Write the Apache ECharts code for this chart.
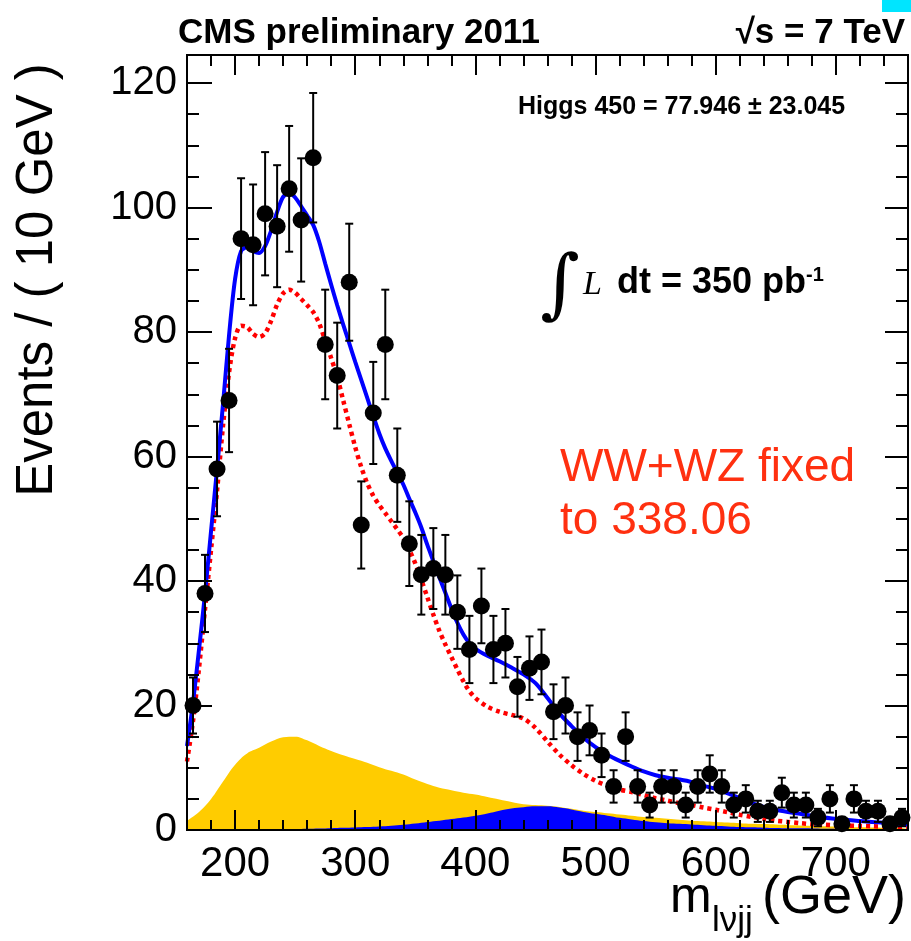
<!DOCTYPE html>
<html>
<head>
<meta charset="utf-8">
<title>CMS preliminary 2011 - m_lvjj</title>
<script src="https://cdn.jsdelivr.net/npm/echarts/dist/echarts.min.js"></script>
<style>
  html, body { margin: 0; padding: 0; background: #fff; }
  #chart { width: 911px; height: 941px; }
</style>
</head>
<body>
<div id="chart"></div>
<script>
// data points (bin centres, 10 GeV bins)
var dataMass = [165, 175, 185, 195, 205, 215, 225, 235, 245, 255, 265, 275, 285, 295, 305, 315, 325, 335, 345, 355,
  365, 375, 385, 395, 405, 415, 425, 435, 445, 455, 465, 475, 485, 495, 505, 515, 525, 535, 545, 555,
  565, 575, 585, 595, 605, 615, 625, 635, 645, 655, 665, 675, 685, 695, 705, 715, 725, 735, 745, 755];
var dataCounts = [20, 38, 58, 69, 95, 94, 99, 97, 103, 98, 108, 78, 73, 88, 49, 67, 78, 57, 46, 41,
  42, 41, 35, 29, 36, 29, 30, 23, 26, 27, 19, 20, 15, 16, 12, 7, 15, 7, 4, 7,
  7, 4, 7, 9, 7, 4, 5, 3, 3, 6, 4, 4, 2, 5, 1, 5, 3, 3, 1, 2];
var dataErrors = [4.5, 6.2, 7.6, 8.3, 9.7, 9.7, 9.9, 9.8, 10.1, 9.9, 10.4, 8.8, 8.5, 9.4, 7.0, 8.2, 8.8, 7.5, 6.8, 6.4,
  6.5, 6.4, 5.9, 5.4, 6.0, 5.4, 5.5, 4.8, 5.1, 5.2, 4.4, 4.5, 3.9, 4.0, 3.5, 2.6, 3.9, 2.6, 2.0, 2.6,
  2.6, 2.0, 2.6, 3.0, 2.6, 2.0, 2.2, 1.7, 1.7, 2.4, 2.0, 2.0, 1.4, 2.2, 1.0, 2.2, 1.7, 1.7, 1.0, 1.4];

// fit curves (total fit in blue, WW+WZ in red dotted)
var fitMass = [160, 165, 170, 175, 180, 185, 190, 195, 200, 205, 210, 215, 220, 225, 230, 235, 240, 245, 250, 255,
  260, 265, 270, 275, 280, 285, 290, 295, 300, 305, 310, 315, 320, 325, 330, 335, 340, 345, 350, 355,
  360, 365, 370, 375, 380, 385, 390, 395, 400, 410, 420, 430, 440, 450, 460, 470, 480, 490, 500, 510,
  520, 530, 540, 550, 560, 570, 580, 590, 600, 610, 620, 630, 640, 650, 660, 670, 680, 690, 700, 710,
  720, 730, 740, 750, 760];
var fitTotal = [13.5, 20.5, 29, 38, 48, 58, 68.5, 79.5, 88.5, 93, 93.6, 93, 92.7, 93.8, 96.3, 99.3, 101.7, 102.4, 101.6, 100.2,
  98.7, 97.2, 94.5, 91, 87.6, 84.3, 81.2, 78.2, 75.2, 72.3, 69.4, 66.5, 63.7, 61.3, 59.3, 57.4, 55.5, 53.2, 51, 48.6,
  45.8, 43.2, 40.6, 38.1, 35.6, 33.3, 31.4, 30, 29.1, 28, 27.1, 26.1, 25, 23.6, 21.2, 18.7, 16.7, 14.8, 13.3, 12.1,
  11.1, 10.2, 9.4, 8.8, 8.4, 8.1, 7.7, 7.1, 6.6, 5.9, 5.1, 4.3, 3.7, 3.25, 2.9, 2.6, 2.3, 2.0, 1.8, 1.6,
  1.45, 1.3, 1.15, 1.0, 0.9];
var fitWW = [11, 17.5, 26, 35.5, 45, 54.5, 65, 73.5, 79, 81, 80.8, 79.7, 79.2, 79.8, 81.8, 84.4, 86.2, 86.8, 86.3, 85.3,
  84.3, 83.2, 81.4, 78.6, 75.8, 72.8, 69, 65.2, 61.5, 58.3, 55.7, 53.7, 52.2, 50.9, 49.6, 48.3, 46.9, 45, 42.8, 40.2,
  37.4, 34.6, 32, 29.8, 27.8, 25.8, 23.9, 22.3, 21.2, 19.8, 19.0, 18.5, 17.9, 16.4, 14.2, 12.1, 10.4, 9.0, 7.9, 7.1,
  6.5, 6.1, 5.6, 5.1, 4.7, 4.3, 4.0, 3.6, 3.25, 2.85, 2.45, 2.1, 1.8, 1.5, 1.3, 1.1, 0.95, 0.85, 0.75, 0.7,
  0.65, 0.6, 0.55, 0.52, 0.5];

// filled components
var compMass = [160, 170, 180, 190, 200, 210, 220, 230, 240, 250, 260, 270, 280, 290, 300, 310, 320, 330, 340, 350,
  360, 370, 380, 390, 400, 410, 420, 430, 440, 450, 460, 470, 480, 490, 500, 510, 520, 530, 540, 550,
  560, 570, 580, 590, 600, 610, 620, 630, 640, 650, 660, 670, 680, 690, 700, 710, 720, 730, 740, 750, 760];
var compYellow = [1.5, 2.9, 5.0, 7.8, 10.5, 12.3, 13.2, 14.2, 14.9, 15.0, 14.4, 13.5, 12.7, 12.0, 11.4, 10.8, 10.1, 9.5, 8.9, 8.1,
  7.4, 6.8, 6.4, 6.0, 5.7, 5.3, 4.9, 4.5, 4.15, 4.0, 3.9, 3.7, 3.4, 3.1, 2.9, 2.7, 2.5, 2.3, 2.1, 1.95,
  1.8, 1.65, 1.5, 1.4, 1.3, 1.2, 1.1, 1.0, 0.95, 0.88, 0.8, 0.72, 0.65, 0.6, 0.55, 0.5, 0.45, 0.42, 0.38, 0.34, 0.3];
var compHiggs = [0, 0.01, 0.02, 0.03, 0.05, 0.07, 0.1, 0.12, 0.15, 0.18, 0.22, 0.26, 0.3, 0.35, 0.4, 0.47, 0.55, 0.68, 0.85, 1.05,
  1.3, 1.5, 1.75, 2.0, 2.3, 2.65, 3.1, 3.45, 3.65, 3.8, 3.8, 3.6, 3.3, 2.9, 2.6, 2.3, 1.95, 1.7, 1.45, 1.25,
  1.1, 1.0, 0.9, 0.78, 0.68, 0.58, 0.5, 0.44, 0.38, 0.34, 0.3, 0.27, 0.25, 0.22, 0.2, 0.18, 0.16, 0.14, 0.12, 0.11, 0.1];

// tick positions
var xMajor = [200, 300, 400, 500, 600, 700];
var xMinor = [180, 220, 240, 260, 280, 320, 340, 360, 380, 420, 440, 460, 480, 520, 540, 560, 580, 620, 640, 660, 680, 720, 740];
var yMajor = [0, 20, 40, 60, 80, 100, 120];
var yMinor = [5, 10, 15, 25, 30, 35, 45, 50, 55, 65, 70, 75, 85, 90, 95, 105, 110, 115];

var FONT = '"Liberation Sans", Arial, Helvetica, sans-serif';

function zip(xs, ys) {
  var out = [];
  for (var i = 0; i < xs.length; i++) out.push([xs[i], ys[i]]);
  return out;
}

var chart = echarts.init(document.getElementById('chart'));

function xAx(pos, ticks, len, labels) {
  return {
    type: 'value', min: 160, max: 760, position: pos, z: 10,
    axisLine: { show: true, onZero: false, lineStyle: { color: '#000', width: 2 } },
    axisTick: { show: true, inside: true, length: len, customValues: ticks, lineStyle: { color: '#000', width: 2 } },
    axisLabel: labels ? { show: true, customValues: ticks, color: '#000', fontSize: 42, fontFamily: FONT, margin: 13 } : { show: false },
    splitLine: { show: false }
  };
}
function yAx(pos, ticks, len, labels) {
  return {
    type: 'value', min: 0, max: 124.5, position: pos, z: 10,
    axisLine: { show: true, onZero: false, lineStyle: { color: '#000', width: 2 } },
    axisTick: { show: true, inside: true, length: len, customValues: ticks, lineStyle: { color: '#000', width: 2 } },
    axisLabel: labels ? { show: true, customValues: ticks, color: '#000', fontSize: 40, fontFamily: FONT, margin: 10 } : { show: false },
    splitLine: { show: false }
  };
}

var errData = [];
for (var i = 0; i < dataMass.length; i++) errData.push([dataMass[i], dataCounts[i], dataErrors[i]]);

function renderErr(params, api) {
  var x = api.value(0), y = api.value(1), e = api.value(2);
  var top = api.coord([x, y + e]);
  var bot = api.coord([x, Math.max(y - e, 0)]);
  var cap = 4;
  var st = { stroke: '#000', lineWidth: 2 };
  return {
    type: 'group',
    children: [
      { type: 'line', shape: { x1: top[0], y1: top[1], x2: bot[0], y2: bot[1] }, style: st },
      { type: 'line', shape: { x1: top[0] - cap, y1: top[1], x2: top[0] + cap, y2: top[1] }, style: st },
      { type: 'line', shape: { x1: bot[0] - cap, y1: bot[1], x2: bot[0] + cap, y2: bot[1] }, style: st }
    ]
  };
}

var option = {
  animation: false,
  backgroundColor: '#fff',
  grid: { left: 187, right: 3, top: 55, bottom: 111, containLabel: false },
  xAxis: [
    xAx('bottom', xMajor, 20, true),
    xAx('bottom', xMinor, 10, false),
    xAx('top', xMajor, 20, false),
    xAx('top', xMinor, 11, false)
  ],
  yAxis: [
    yAx('left', yMajor, 25, true),
    yAx('left', yMinor, 12, false),
    yAx('right', yMajor, 23, false),
    yAx('right', yMinor, 12, false)
  ],
  series: [
    {
      name: 'yellow', type: 'line', data: zip(compMass, compYellow), smooth: 0.4, showSymbol: false,
      lineStyle: { width: 0 }, areaStyle: { color: '#ffcc00', opacity: 1 }, z: 1
    },
    {
      name: 'Higgs 450', type: 'line', data: zip(compMass, compHiggs), smooth: 0.4, showSymbol: false,
      lineStyle: { width: 0 }, areaStyle: { color: '#0000ff', opacity: 1 }, z: 2
    },
    {
      name: 'WW+WZ', type: 'line', data: zip(fitMass, fitWW), smooth: 0.3, showSymbol: false,
      lineStyle: { color: '#ff0000', width: 4.5, type: [4, 4] }, z: 3
    },
    {
      name: 'total', type: 'line', data: zip(fitMass, fitTotal), smooth: 0.3, showSymbol: false,
      lineStyle: { color: '#0000ff', width: 4 }, z: 4
    },
    {
      name: 'errors', type: 'custom', renderItem: renderErr, data: errData, z: 5,
      encode: { x: 0, y: 1 }
    },
    {
      name: 'data', type: 'scatter', data: zip(dataMass, dataCounts), symbol: 'circle', symbolSize: 17,
      itemStyle: { color: '#000', opacity: 1 }, z: 6
    }
  ],
  graphic: [
    { type: 'rect', shape: { x: 882, y: 0, width: 29, height: 12 }, style: { fill: '#00e5ff' }, z: 20 },
    { type: 'text', x: 178, y: 33, z: 20, style: { text: 'CMS preliminary 2011', font: 'bold 35px ' + FONT, fill: '#000', align: 'left', verticalAlign: 'middle' } },
    { type: 'text', x: 905, y: 33, z: 20, style: { text: '\u221As = 7 TeV', font: 'bold 35px ' + FONT, fill: '#000', align: 'right', verticalAlign: 'middle' } },
    { type: 'text', x: 518, y: 107, z: 20, style: { text: 'Higgs 450 = 77.946 \u00B1 23.045', font: 'bold 25px ' + FONT, fill: '#000', align: 'left', verticalAlign: 'middle' } },
    { type: 'text', x: 560, y: 289, z: 20, style: { text: '\u222B', font: '76px "DejaVu Serif", serif', fill: '#000', align: 'center', verticalAlign: 'middle' } },
    { type: 'text', x: 583, y: 285, z: 20, style: { text: 'L', font: 'italic 34px "Liberation Serif", "Times New Roman", serif', fill: '#000', align: 'left', verticalAlign: 'middle' } },
    { type: 'text', x: 617, y: 283, z: 20, style: { text: 'dt = 350 pb', font: 'bold 36px ' + FONT, fill: '#000', align: 'left', verticalAlign: 'middle' } },
    { type: 'text', x: 806, y: 275, z: 20, style: { text: '-1', font: 'bold 20px ' + FONT, fill: '#000', align: 'left', verticalAlign: 'middle' } },
    { type: 'text', x: 560, y: 468, z: 20, style: { text: 'WW+WZ fixed', font: '46px ' + FONT, fill: '#ff3010', align: 'left', verticalAlign: 'middle' } },
    { type: 'text', x: 560, y: 521, z: 20, style: { text: 'to 338.06', font: '46px ' + FONT, fill: '#ff3010', align: 'left', verticalAlign: 'middle' } },
    { type: 'text', x: 38, y: 280, rotation: Math.PI / 2, z: 20, style: { text: 'Events / ( 10 GeV )', font: '51px ' + FONT, fill: '#000', align: 'center', verticalAlign: 'middle' } },
    { type: 'text', x: 670, y: 898, z: 20, style: { text: 'm', font: '50px ' + FONT, fill: '#000', align: 'left', verticalAlign: 'middle' } },
    { type: 'text', x: 712, y: 921, z: 20, style: { text: 'l\u03BDjj', font: '35px ' + FONT, fill: '#000', align: 'left', verticalAlign: 'middle' } },
    { type: 'text', x: 906, y: 898, z: 20, style: { text: '(GeV)', font: '54px ' + FONT, fill: '#000', align: 'right', verticalAlign: 'middle' } }
  ]
};

chart.setOption(option);
window.addEventListener('resize', function () {
  chart.resize();
});
</script>
</body>
</html>
